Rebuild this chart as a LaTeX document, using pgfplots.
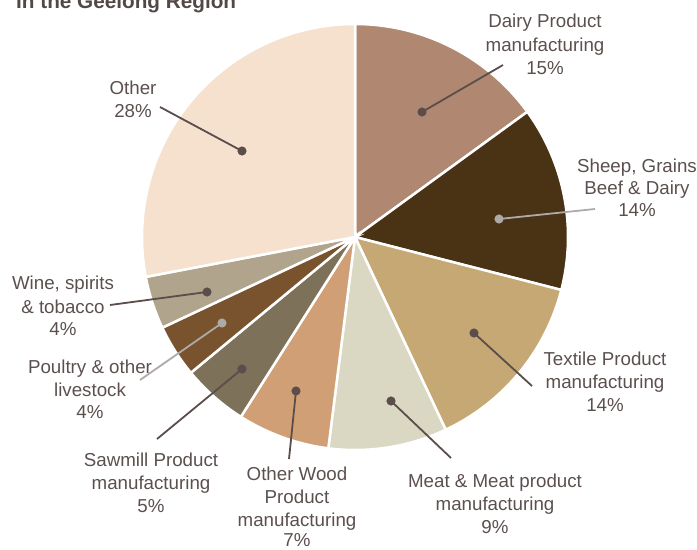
\documentclass[border=0pt]{standalone}
\usepackage{fontspec}
\setmainfont{Liberation Sans}
\usepackage{pgfplots}
\pgfplotsset{compat=1.18}
\definecolor{cDairy}{HTML}{B08872}
\definecolor{cSheep}{HTML}{4A3214}
\definecolor{cTextile}{HTML}{C5A874}
\definecolor{cMeat}{HTML}{DAD7C3}
\definecolor{cWood}{HTML}{D19F75}
\definecolor{cSaw}{HTML}{7D7159}
\definecolor{cPoultry}{HTML}{78532D}
\definecolor{cWine}{HTML}{B0A48C}
\definecolor{cOther}{HTML}{F6E1CF}
\definecolor{txt}{HTML}{5B504E}
\definecolor{ldark}{HTML}{5A4D4A}
\definecolor{llight}{HTML}{ADAAA7}
\tikzset{lab/.style={anchor=base, text=txt, font=\fontsize{18.8}{23}\selectfont, inner sep=0pt}}
% #1 cumulative percent before slice, #2 percent, #3 colour
\newcommand{\slice}[3]{%
  \addplot[fill=#3, draw=white, line width=2.5bp, domain=90-3.6*(#1+#2):90-3.6*(#1), samples=80, variable=\t]
    ({355+213*cos(\t)},{313+213*sin(\t)}) -- (axis cs:355,313) -- cycle;}
\newcommand{\lead}[5]{% colour, x1,y1 (dot), x2,y2
  \addplot[#1, line width=1.8bp, mark=*, mark size=3.6bp, mark indices={1}, mark options={fill=#1, draw=#1}]
    coordinates {(#2,#3) (#4,#5)};}
\begin{document}
\begin{tikzpicture}
\path[use as bounding box] (0,0) rectangle (697bp,550bp);
\begin{axis}[at={(0,0)}, anchor=south west, width=697bp, height=550bp, scale only axis,
  xmin=0, xmax=697, ymin=0, ymax=550, axis lines=none, clip=false]
\slice{0}{15}{cDairy}
\slice{15}{14}{cSheep}
\slice{29}{14}{cTextile}
\slice{43}{9}{cMeat}
\slice{52}{7}{cWood}
\slice{59}{5}{cSaw}
\slice{64}{4}{cPoultry}
\slice{68}{4}{cWine}
\slice{72}{28}{cOther}
% leader lines (y = 550 - pixel y)
\lead{ldark}{422}{438}{503}{485}
\lead{llight}{499}{331}{595}{341}
\lead{ldark}{474}{217}{532}{164}
\lead{ldark}{391}{149}{451}{92}
\lead{ldark}{296}{159}{289}{91}
\lead{ldark}{242}{181}{157}{111}
\lead{llight}{222}{227}{140}{170}
\lead{ldark}{207}{258}{110}{245}
\lead{ldark}{242}{399}{160}{443}
% title (cut off at top)
\node[anchor=base west, inner sep=0pt, text=txt!90!black, font=\fontsize{20.8}{24}\selectfont\bfseries] at (axis cs:16,541) {In the Geelong Region};
% labels
\node[lab] at (axis cs:545,522) {Dairy Product};
\node[lab] at (axis cs:545,498) {manufacturing};
\node[lab] at (axis cs:545,475) {15\%};
\node[lab] at (axis cs:637,378) {Sheep, Grains};
\node[lab] at (axis cs:637,356) {Beef \& Dairy};
\node[lab] at (axis cs:637,334) {14\%};
\node[lab] at (axis cs:605,185) {Textile Product};
\node[lab] at (axis cs:605,162) {manufacturing};
\node[lab] at (axis cs:605,139) {14\%};
\node[lab] at (axis cs:495,63) {Meat \& Meat product};
\node[lab] at (axis cs:495,40) {manufacturing};
\node[lab] at (axis cs:495,17) {9\%};
\node[lab] at (axis cs:297,70) {Other Wood};
\node[lab] at (axis cs:297,47) {Product};
\node[lab] at (axis cs:297,24) {manufacturing};
\node[lab] at (axis cs:297,3.5) {7\%};
\node[lab] at (axis cs:151,84) {Sawmill Product};
\node[lab] at (axis cs:151,61) {manufacturing};
\node[lab] at (axis cs:151,38) {5\%};
\node[lab] at (axis cs:90,177) {Poultry \& other};
\node[lab] at (axis cs:90,154) {livestock};
\node[lab] at (axis cs:90,132) {4\%};
\node[lab] at (axis cs:63,261) {Wine, spirits};
\node[lab] at (axis cs:63,237) {\& tobacco};
\node[lab] at (axis cs:63,215) {4\%};
\node[lab] at (axis cs:133,455) {Other};
\node[lab] at (axis cs:133,432) {28\%};
\end{axis}
\end{tikzpicture}
\end{document}
